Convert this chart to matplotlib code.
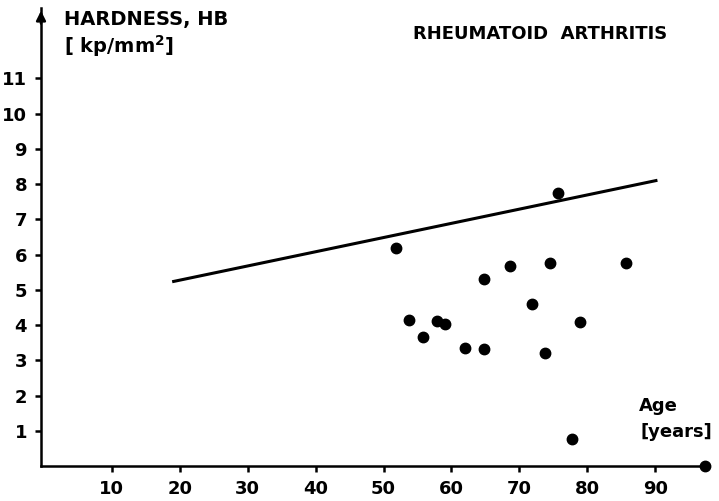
import numpy as np
import matplotlib
matplotlib.use("Agg")
import matplotlib.pyplot as plt

# data
age = [51.8, 75.6, 53.8, 55.8, 57.8, 59.1, 62.0, 64.8, 64.8, 68.6, 74.5, 71.9, 73.8, 78.9, 85.7, 77.8]
hardness = [6.20, 7.75, 4.14, 3.67, 4.12, 4.04, 3.35, 3.31, 5.32, 5.69, 5.77, 4.59, 3.22, 4.10, 5.77, 0.78]

# reference line (normal values)
line_age = [18.9, 90.3]
line_hb = [5.23, 8.11]

xticks = [10, 20, 30, 40, 50, 60, 70, 80, 90]
yticks = [1, 2, 3, 4, 5, 6, 7, 8, 9, 10, 11]

plt.rcParams['font.family'] = ['DejaVu Sans']

fig = plt.figure(figsize=(7.19, 5.01), dpi=100)
ax = fig.add_axes([41 / 719, 35 / 501, (705 - 41) / 719, (466 - 8) / 501])

ax.plot(line_age, line_hb, color='black', lw=2.2, solid_capstyle='butt')
ax.plot(age, hardness, 'o', color='black', markersize=7.5, clip_on=False)

ax.set_xlim(-0.4, 97.3)
ax.set_ylim(0, 13.0)

for s in ['top', 'right']:
    ax.spines[s].set_visible(False)
for s in ['left', 'bottom']:
    ax.spines[s].set_linewidth(1.8)

ax.set_xticks(xticks)
ax.set_yticks(yticks)
ax.tick_params(axis='both', length=4, width=1.8, labelsize=13, pad=6)
for lab in ax.get_xticklabels() + ax.get_yticklabels():
    lab.set_fontweight('bold')

# arrow on the y axis and dot at the end of the x axis
ax.annotate('', xy=(0, 1.0), xytext=(0, 0.96), xycoords='axes fraction',
            arrowprops=dict(arrowstyle='-|>', lw=1.8, color='black', mutation_scale=14))
ax.plot([1], [0], 'o', color='black', markersize=7.5, transform=ax.transAxes, clip_on=False)

fig.text(64 / 719, 1 - 19 / 501, 'HARDNESS, HB', fontsize=14, fontweight='bold', va='center', ha='left')
fig.text(64 / 719, 1 - 46 / 501, '[ kp/mm$^\\mathbf{2}$]', fontsize=14, fontweight='bold', va='center', ha='left')
fig.text(540 / 719, 1 - 34 / 501, 'RHEUMATOID  ARTHRITIS', fontsize=13, fontweight='bold', va='center', ha='center')
fig.text(658 / 719, 1 - 406 / 501, 'Age', fontsize=13, fontweight='bold', va='center', ha='center')
fig.text(676 / 719, 1 - 432 / 501, '[years]', fontsize=13, fontweight='bold', va='center', ha='center')

fig.savefig('out.png', dpi=100)
